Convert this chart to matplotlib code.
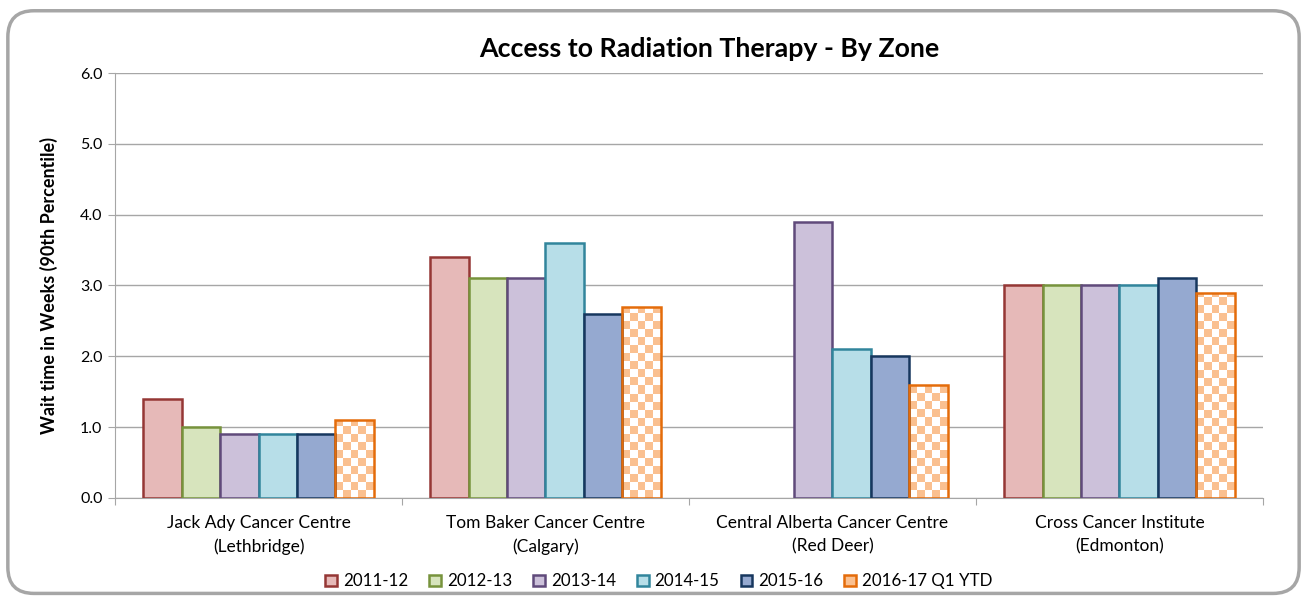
import numpy as np
import matplotlib
matplotlib.use("Agg")
import matplotlib.pyplot as plt
from matplotlib.colors import ListedColormap
from matplotlib.patches import FancyBboxPatch, Patch

plt.rcParams['font.family'] = ['Lato', 'DejaVu Sans']

# data
centres = ["Jack Ady Cancer Centre\n(Lethbridge)",
           "Tom Baker Cancer Centre\n(Calgary)",
           "Central Alberta Cancer Centre\n(Red Deer)",
           "Cross Cancer Institute\n(Edmonton)"]
years = ["2011-12", "2012-13", "2013-14", "2014-15", "2015-16", "2016-17 Q1 YTD"]
wait_2011 = [1.4, 3.4, np.nan, 3.0]
wait_2012 = [1.0, 3.1, np.nan, 3.0]
wait_2013 = [0.9, 3.1, 3.9, 3.0]
wait_2014 = [0.9, 3.6, 2.1, 3.0]
wait_2015 = [0.9, 2.6, 2.0, 3.1]
wait_2016 = [1.1, 2.7, 1.6, 2.9]
series = [wait_2011, wait_2012, wait_2013, wait_2014, wait_2015, wait_2016]

faces = ["#E6B9B8", "#D7E4BD", "#CCC1DA", "#B7DEE8", "#95A9D0", "none"]
edges = ["#953735", "#77933C", "#604A7B", "#31859C", "#17375E", "#E46C0A"]
checker = ListedColormap(["white", "#FAC090"])

fig = plt.figure(figsize=(13.07, 5.97), dpi=100)

# rounded chart frame
frame = FancyBboxPatch((0.006, 0.006), 0.988, 0.976, boxstyle="round,pad=0,rounding_size=0.02",
                       transform=fig.transFigure, facecolor="white", edgecolor="#A6A6A6",
                       linewidth=2.5, mutation_aspect=1307 / 597, zorder=-5)
fig.patches.append(frame)

ax = fig.add_axes([0.088, 0.166, 0.8783, 0.7117])
ax.set_facecolor("none")

x = np.arange(len(centres))
w = 0.134
for i, vals in enumerate(series):
    pos = x - 3 * w + (i + 0.5) * w
    bars = ax.bar(pos, vals, width=w, facecolor=faces[i], edgecolor=edges[i],
                  linewidth=1.8, zorder=3)
    if i == 5:
        # checkerboard fill for the year-to-date bars
        cy = 0.113
        cw = w / 5
        for b in bars:
            h = b.get_height()
            if np.isnan(h):
                continue
            ny = int(np.ceil(h / cy))
            grid = (np.add.outer(np.arange(ny), np.arange(5)) % 2)[::-1]
            im = ax.imshow(grid, cmap=checker, extent=(b.get_x(), b.get_x() + 5 * cw, 0, ny * cy),
                           origin="upper", aspect="auto", interpolation="nearest", zorder=2.5)
            im.set_clip_path(b)

ax.set_xlim(-0.5, len(centres) - 0.5)
ax.set_ylim(0, 6)
ax.set_yticks(np.arange(0, 6.1, 1.0))
ax.set_yticklabels([f"{v:.1f}" for v in np.arange(0, 6.1, 1.0)], fontsize=11.5)
ax.yaxis.grid(True, color="#A6A6A6", linewidth=1)
ax.set_axisbelow(True)
ax.set_xticks(np.arange(-0.5, len(centres), 1.0))
ax.set_xticklabels([])
ax.set_xticks(x, minor=True)
ax.set_xticklabels(centres, minor=True, fontsize=12.5, linespacing=1.6)
ax.tick_params(axis="x", which="minor", length=0, pad=12)
ax.tick_params(axis="x", which="major", length=5, color="#A6A6A6")
ax.tick_params(axis="y", length=5, color="#A6A6A6", pad=4)
for s in ["top", "right"]:
    ax.spines[s].set_visible(False)
for s in ["left", "bottom"]:
    ax.spines[s].set_color("#A6A6A6")

ax.set_ylabel("Wait time in Weeks (90th Percentile)", fontsize=13, fontweight="bold", labelpad=16)
fig.text(0.543, 0.918, "Access to Radiation Therapy - By Zone", ha="center", va="center",
         fontsize=19.3, fontweight="bold")

handles = [Patch(facecolor=faces[i] if i < 5 else "#FAC090", edgecolor=edges[i], linewidth=1.8,
                 label=years[i]) for i in range(6)]
fig.legend(handles=handles, loc="center", bbox_to_anchor=(0.504, 0.026), ncol=6, frameon=False,
           fontsize=12.2, handlelength=0.7, handleheight=0.7, handletextpad=0.35, columnspacing=1.24)

fig.savefig("out.png", dpi=100)
